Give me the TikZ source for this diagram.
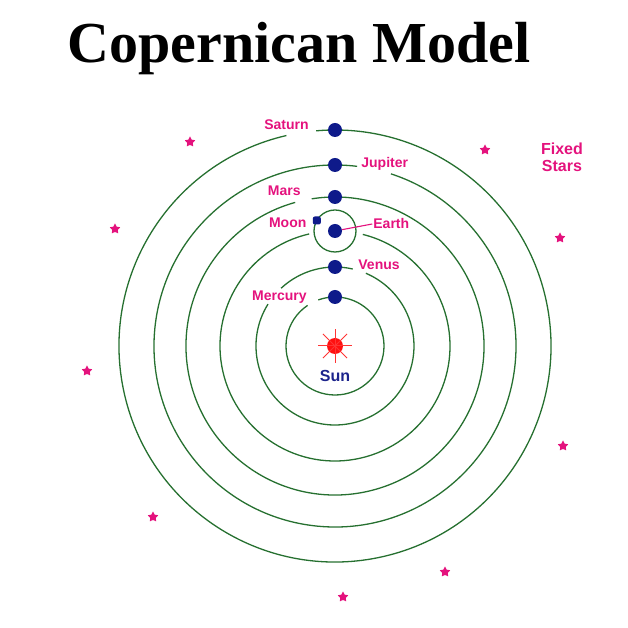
\documentclass[tikz,border=0pt]{standalone}
\usepackage{fontspec}
\setmainfont{Liberation Serif}
\setsansfont{Liberation Sans}
\usetikzlibrary{positioning,shapes.geometric}
\definecolor{orbitgreen}{RGB}{38,112,48}
\definecolor{labelpink}{RGB}{228,18,125}
\definecolor{planetblue}{RGB}{14,26,138}
\definecolor{sunred}{RGB}{255,16,16}
\definecolor{sunblue}{RGB}{28,36,140}
\tikzset{
  orbit/.style={draw=orbitgreen, line width=1.3pt},
  planet/.style={circle, fill=planetblue, minimum size=14pt, inner sep=0pt},
  moonbody/.style={rectangle, rounded corners=2pt, fill=planetblue, minimum size=8pt, inner sep=0pt},
  lbl/.style={text=labelpink, font=\sffamily\bfseries\fontsize{14}{14}\selectfont, inner sep=1pt},
  fixstar/.style={star, star points=5, star point ratio=1.9, fill=labelpink, minimum size=11pt, inner sep=0pt},
}

\begin{document}
\begin{tikzpicture}[x=1pt, y=1pt, node distance=10pt]
  \useasboundingbox (-335,-282) rectangle (292,346);
  \node[font=\bfseries\fontsize{58}{58}\selectfont, anchor=base] (title) at (-36,283) {Copernican Model};

  % orbits, with gaps where labels sit
  \draw[orbit] (124:49) arc[start angle=124, end angle=470, radius=49];
  \draw[orbit] (77:79) arc[start angle=77, end angle=133, radius=79];
  \draw[orbit] (148:79) arc[start angle=148, end angle=427, radius=79];
  \draw[orbit] (103:115) arc[start angle=103, end angle=436, radius=115];
  \draw[orbit] (105.5:149) arc[start angle=105.5, end angle=459, radius=149];
  \draw[orbit] (83:181) arc[start angle=83, end angle=432, radius=181];
  \draw[orbit] (103:216) arc[start angle=103, end angle=455, radius=216];
  \draw[orbit] (0,115) circle[radius=21];

  % sun
  \node[circle, fill=sunred, minimum size=16pt, inner sep=0pt] (sun) at (0,0) {};
  \foreach \a in {0,45,...,315}
    \draw[sunred!85, line width=1pt] (sun.center) -- +(\a:17);
  \node[text=sunblue, font=\sffamily\bfseries\fontsize{16}{16}\selectfont, below=13pt of sun] (sunlbl) {Sun};

  % planets
  \node[planet] (merc) at (0,49) {};
  \node[planet] (ven) at (0,79) {};
  \node[planet] (earth) at (0,115) {};
  \node[moonbody] (moon) at (-18.2,125.5) {};
  \node[planet] (mars) at (0,149) {};
  \node[planet] (jup) at (0,181) {};
  \node[planet] (sat) at (0,216) {};

  % labels
  \node[lbl, left=18pt of sat, yshift=5pt] (satlbl) {Saturn};
  \node[lbl, right=18pt of jup, yshift=1pt] (juplbl) {Jupiter};
  \node[lbl, left=26pt of mars, yshift=6pt] (marslbl) {Mars};
  \node[lbl, left=5pt of moon, yshift=-2pt] (moonlbl) {Moon};
  \node[lbl, right=30pt of earth, yshift=7pt] (earthlbl) {Earth};
  \node[lbl, right=15pt of ven, yshift=2pt] (venlbl) {Venus};
  \node[lbl, left=20pt of merc] (merclbl) {Mercury};
  \draw[labelpink, line width=1.1pt] (earth) -- (earthlbl.west);

  % fixed stars
  \node[lbl, align=center, font=\sffamily\bfseries\fontsize{16}{17}\selectfont] (fixed) at (227,189) {Fixed\\Stars};
  \foreach \p [count=\i] in {(-145,204),(150,196),(-220,117),(225,108),(-248,-25),(228,-100),(-182,-171),(110,-226),(8,-251)}
    \node[fixstar] (star\i) at \p {};
\end{tikzpicture}
\end{document}
